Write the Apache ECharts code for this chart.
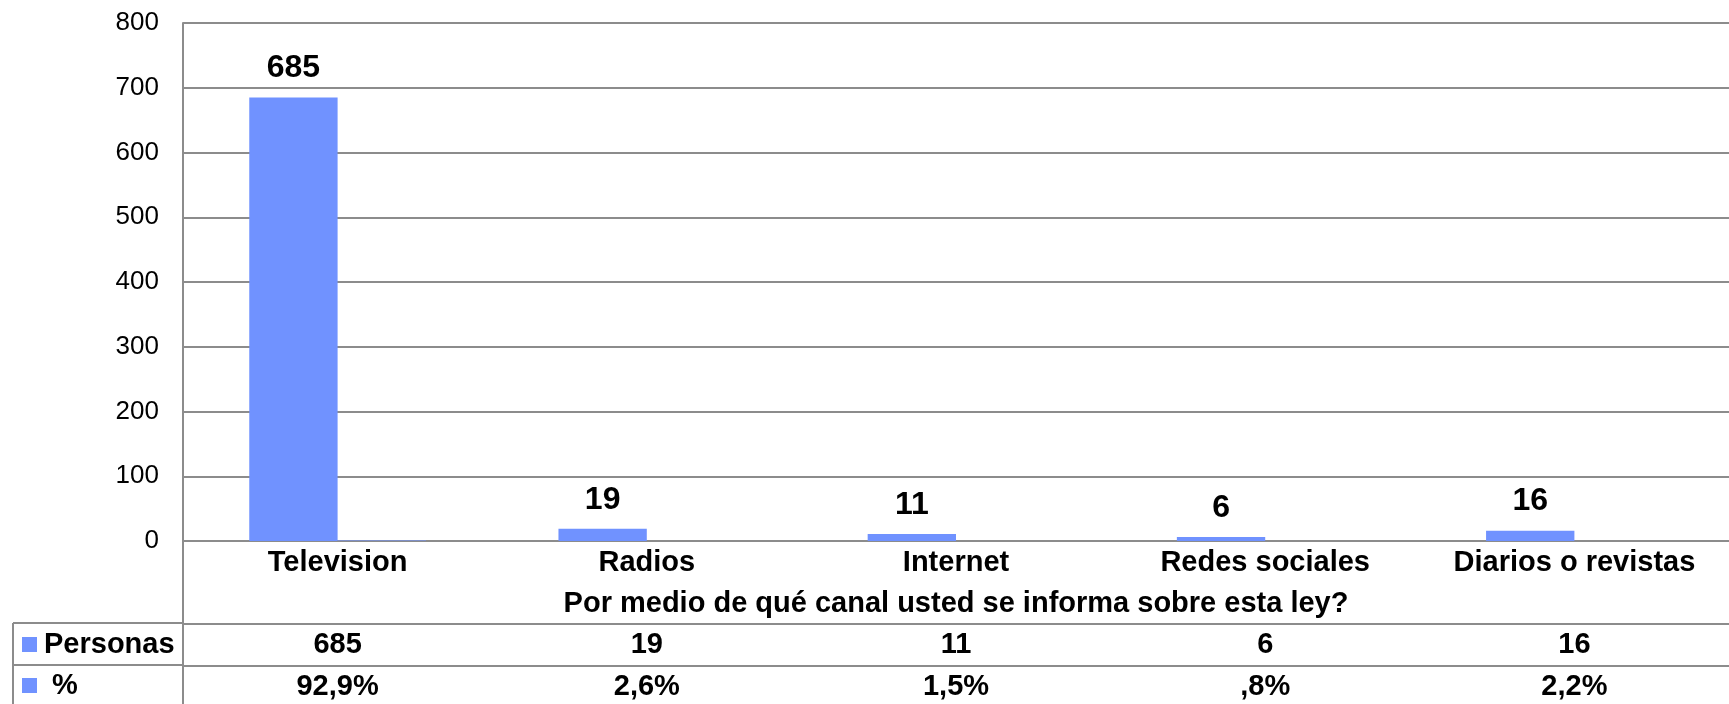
<!DOCTYPE html>
<html>
<head>
<meta charset="utf-8">
<title>Canal de información</title>
<script src="https://cdn.jsdelivr.net/npm/echarts@6/dist/echarts.min.js"></script>
<style>
  html, body { margin: 0; padding: 0; background: #fff; }
  #chart { width: 1729px; height: 704px; }
</style>
</head>
<body>
<div id="chart"></div>
<script>
// datos
const categories = ['Television', 'Radios', 'Internet', 'Redes sociales', 'Diarios o revistas'];
const personas = [685, 19, 11, 6, 16];
const porcentaje = [0.929, 0.026, 0.015, 0.008, 0.022];
const axisTitle = 'Por medio de qué canal usted se informa sobre esta ley?';

const font = 'Liberation Sans, Arial, sans-serif';
const grey = '#8c8c8c';
const blue = '#7092ff';

function fmtPct(v) {
	let s = (v * 100).toFixed(1).replace('.', ',');
	if (s.indexOf('0,') === 0) s = s.slice(1);   // ",8%" como en la tabla
	return s + '%';
}

const boldText = { color: '#000', fontFamily: font, fontWeight: 'bold', fontSize: 29 };
const greyLine = { color: grey, width: 2 };

const myChart = echarts.init(document.getElementById('chart'));
const option = {
	animation: false,
	textStyle: { fontFamily: font },
	// el área de trazado sigue un poco más allá del borde derecho, como en el original
	grid: { left: 183, width: 1555, top: 23, bottom: 163 },
	legend: {
		orient: 'vertical',
		left: 22,
		top: 630,
		padding: 0,
		itemGap: 12,
		itemWidth: 15,
		itemHeight: 15,
		icon: 'rect',
		selectedMode: false,
		formatter: (name) => name === '%' ? ' %' : name,
		textStyle: Object.assign({ lineHeight: 29, padding: [0, 0, 0, 2] }, boldText),
		data: ['Personas', '%']
	},
	xAxis: [{
		type: 'category',
		data: categories,
		axisLine: { lineStyle: greyLine },
		axisTick: { length: 42, lineStyle: greyLine },
		axisLabel: Object.assign({ margin: 7, interval: 0 }, boldText),
		name: axisTitle,
		nameLocation: 'middle',
		nameGap: 48,
		nameTextStyle: boldText
	}, {
		type: 'category',
		data: personas.map(String),
		position: 'bottom',
		offset: 83,
		axisLine: { lineStyle: greyLine },
		axisTick: { length: 42, lineStyle: greyLine },
		axisLabel: Object.assign({ margin: 6, interval: 0 }, boldText)
	}, {
		type: 'category',
		data: porcentaje.map(fmtPct),
		position: 'bottom',
		offset: 125,
		axisLine: { lineStyle: greyLine },
		axisTick: { length: 45, lineStyle: greyLine },
		axisLabel: Object.assign({ margin: 6, interval: 0 }, boldText)
	}],
	yAxis: {
		type: 'value',
		min: 0,
		max: 800,
		interval: 100,
		axisLine: { show: true, lineStyle: greyLine },
		axisTick: { show: false },
		axisLabel: { color: '#000', fontFamily: font, fontSize: 26, margin: 24 },
		splitLine: { lineStyle: greyLine }
	},
	series: [{
		name: 'Personas',
		type: 'bar',
		data: personas,
		barWidth: '28.57%',
		barGap: '0%',
		itemStyle: { color: blue },
		label: {
			show: true,
			position: 'top',
			distance: 13,
			color: '#000',
			fontFamily: font,
			fontWeight: 'bold',
			fontSize: 32
		}
	}, {
		name: '%',
		type: 'bar',
		data: porcentaje,
		barWidth: '28.57%',
		itemStyle: { color: blue }
	}],
	// marco izquierdo de la tabla de datos
	graphic: [
		{ type: 'line', shape: { x1: 183, y1: 540, x2: 183, y2: 704 }, style: { stroke: grey, lineWidth: 2 } },
		{ type: 'line', shape: { x1: 13, y1: 623, x2: 183, y2: 623 }, style: { stroke: grey, lineWidth: 2 } },
		{ type: 'line', shape: { x1: 13, y1: 665, x2: 183, y2: 665 }, style: { stroke: grey, lineWidth: 2 } },
		{ type: 'line', shape: { x1: 13, y1: 623, x2: 13, y2: 704 }, style: { stroke: grey, lineWidth: 2 } }
	]
};
myChart.setOption(option);
</script>
</body>
</html>
